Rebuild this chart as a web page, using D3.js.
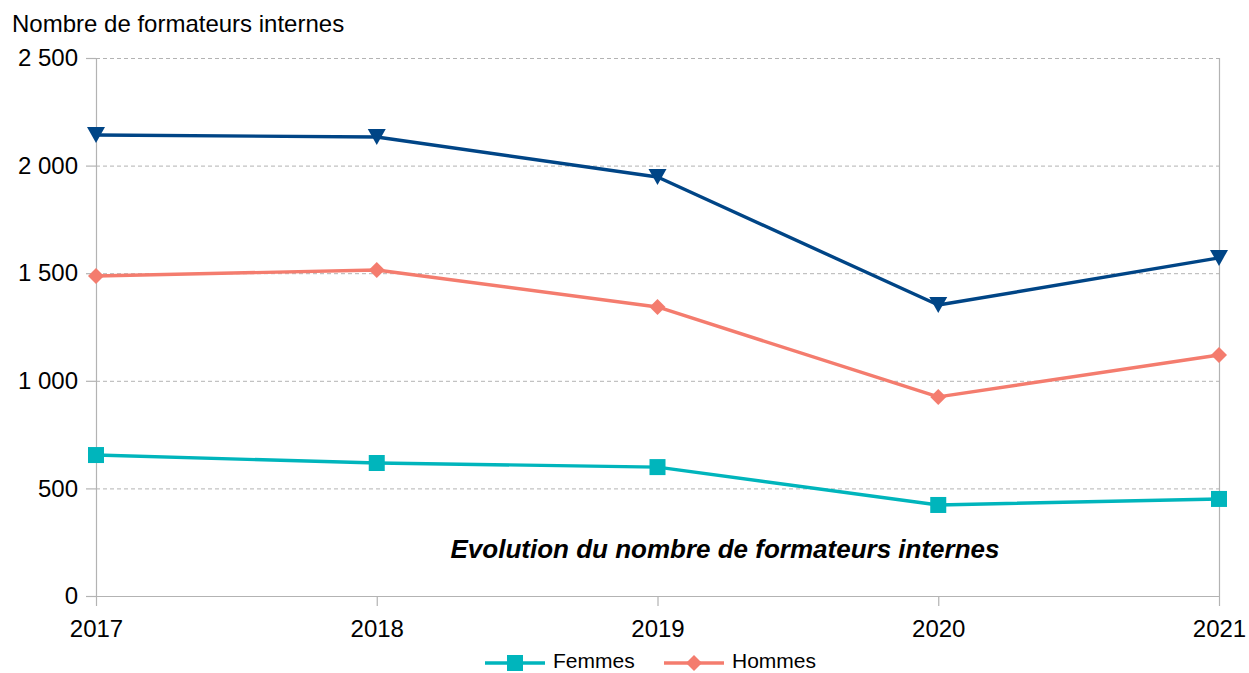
<!DOCTYPE html>
<html>
<head>
<meta charset="utf-8">
<script src="https://cdn.jsdelivr.net/npm/d3@7"></script>
<style>
  body { margin: 0; background: #fff; }
  text { font-family: "Liberation Sans", Arial, sans-serif; fill: #000; }
</style>
</head>
<body>
<div id="vis"></div>
<script>
// data
var years = ['2017', '2018', '2019', '2020', '2021'];
var femmes = [655, 618, 599, 423, 451];
var hommes = [1487, 1515, 1343, 925, 1120];
var total = [2142, 2133, 1947, 1352, 1571];
var yTicks = [0, 500, 1000, 1500, 2000, 2500];

var width = 1249, height = 673;
var margin = { left: 96, top: 58, right: 30, bottom: 77 };
var innerW = width - margin.left - margin.right;
var innerH = height - margin.top - margin.bottom;

var svg = d3.select('#vis').append('svg')
    .attr('width', width)
    .attr('height', height);

var g = svg.append('g')
    .attr('transform', 'translate(' + margin.left + ',' + margin.top + ')');

var x = d3.scalePoint().domain(years).range([0, innerW]);
var y = d3.scaleLinear().domain([0, 2500]).range([innerH, 0]);

var fmt = function(d) { return d3.format(',')(d).replace(',', ' '); };

// grid
g.selectAll('.grid').data(yTicks.filter(function(d) { return d > 0; }))
    .enter().append('line')
    .attr('x1', 0).attr('x2', innerW)
    .attr('y1', function(d) { return y(d) + 0.5; })
    .attr('y2', function(d) { return y(d) + 0.5; })
    .attr('stroke', '#b3b3b3')
    .attr('stroke-dasharray', '4,3');

// axes
var yAxis = g.append('g')
    .call(d3.axisLeft(y).tickValues(yTicks).tickFormat(fmt).tickSize(10).tickPadding(8));
var xAxis = g.append('g')
    .attr('transform', 'translate(0,' + innerH + ')')
    .call(d3.axisBottom(x).tickSize(10).tickPadding(14));
[yAxis, xAxis].forEach(function(a) {
    a.selectAll('path, line').attr('stroke', '#b3b3b3').attr('stroke-width', 1.2);
    a.selectAll('text').style('font-size', '24px').attr('fill', '#000');
    a.attr('font-family', null);
});
yAxis.select('.domain').remove();
xAxis.select('.domain').remove();
g.append('line').attr('x1', 0.5).attr('x2', 0.5).attr('y1', 0).attr('y2', innerH)
    .attr('stroke', '#b3b3b3').attr('stroke-width', 1.2);
g.append('line').attr('x1', innerW + 0.5).attr('x2', innerW + 0.5).attr('y1', 0).attr('y2', innerH)
    .attr('stroke', '#b3b3b3').attr('stroke-width', 1.2);
g.append('line').attr('x1', 0).attr('x2', innerW).attr('y1', innerH + 0.5).attr('y2', innerH + 0.5)
    .attr('stroke', '#b3b3b3').attr('stroke-width', 1.2);

// series
var series = [
    { name: 'Total', values: total, color: '#004586', symbol: 'tri', legend: false },
    { name: 'Hommes', values: hommes, color: '#f47c6e', symbol: 'diamond', legend: true },
    { name: 'Femmes', values: femmes, color: '#00b5bc', symbol: 'square', legend: true }
];

function marker(sel, s, cx, cy)
{
    if(s.symbol === 'square')
        sel.append('rect').attr('x', cx - 8).attr('y', cy - 8).attr('width', 16).attr('height', 16).attr('fill', s.color);
    else if(s.symbol === 'diamond')
        sel.append('path').attr('d', 'M' + cx + ',' + (cy - 8) + 'L' + (cx + 8) + ',' + cy + 'L' + cx + ',' + (cy + 8) + 'L' + (cx - 8) + ',' + cy + 'Z').attr('fill', s.color);
    else
        sel.append('path').attr('d', 'M' + (cx - 9) + ',' + (cy - 8) + 'L' + (cx + 9) + ',' + (cy - 8) + 'L' + cx + ',' + (cy + 8) + 'Z').attr('fill', s.color);
}

var line = d3.line()
    .x(function(d, i) { return x(years[i]); })
    .y(function(d) { return y(d); });

series.forEach(function(s) {
    g.append('path')
        .attr('d', line(s.values))
        .attr('fill', 'none')
        .attr('stroke', s.color)
        .attr('stroke-width', 3.4)
        .attr('stroke-linejoin', 'round');
    var mg = g.append('g');
    s.values.forEach(function(v, i) { marker(mg, s, x(years[i]), y(v)); });
});

// titles
svg.append('text')
    .attr('x', 12).attr('y', 32)
    .style('font-size', '24px')
    .text('Nombre de formateurs internes');

svg.append('text')
    .attr('x', 725).attr('y', 558)
    .attr('text-anchor', 'middle')
    .style('font-size', '26px')
    .style('font-weight', 'bold')
    .style('font-style', 'italic')
    .text('Evolution du nombre de formateurs internes');

// legend
var legendItems = [series[2], series[1]];
var lx = [485, 664];
legendItems.forEach(function(s, i) {
    var lg = svg.append('g');
    lg.append('line').attr('x1', lx[i]).attr('x2', lx[i] + 60).attr('y1', 663).attr('y2', 663)
        .attr('stroke', s.color).attr('stroke-width', 3.4);
    marker(lg, { symbol: s.symbol, color: s.color }, lx[i] + 30, 663);
    lg.append('text').attr('x', lx[i] + 68).attr('y', 668)
        .style('font-size', '21px').text(s.name);
});
</script>
</body>
</html>
